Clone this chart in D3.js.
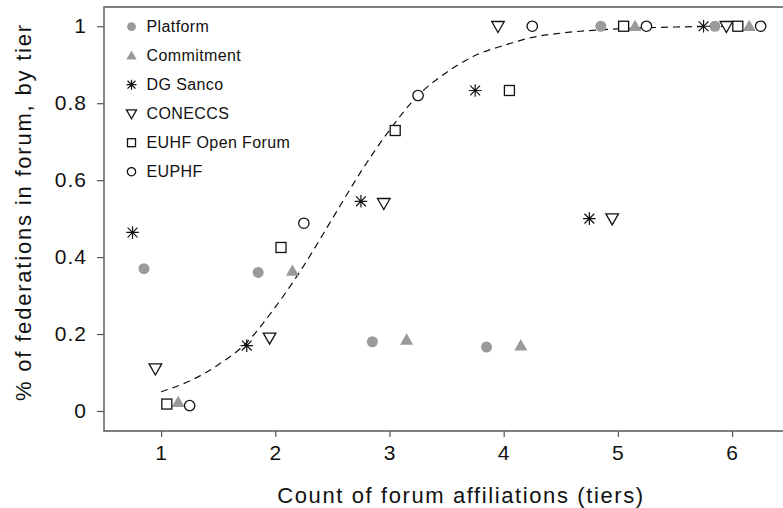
<!DOCTYPE html>
<html>
<head>
<meta charset="utf-8">
<script src="https://cdn.jsdelivr.net/npm/d3@7"></script>
<style>
  body { margin: 0; background: #fff; }
  #chart text { font-family: "Liberation Sans", Arial, sans-serif; fill: #111; }
</style>
</head>
<body>
<div id="chart"></div>
<script>
// tiers (count of forum affiliations)
var tiers = [1, 2, 3, 4, 5, 6];

// share of federations in each forum, by tier
var platform   = [0.37, 0.36, 0.18, 0.166, 1, 1];
var commitment = [0.023, 0.364, 0.185, 0.17, 1, 1];
var dgSanco    = [0.464, 0.17, 0.545, 0.833, 0.5, 1];
var coneccs    = [0.11, 0.19, 0.54, 1, 0.5, 1];
var euhfOpen   = [0.018, 0.425, 0.729, 0.833, 1, 1];
var euphf      = [0.014, 0.488, 0.82, 1, 1, 1];

// dashed fitted curve
var fitX = [1, 1.25, 1.5, 1.75, 2, 2.25, 2.5, 2.75, 3, 3.25, 3.5, 3.75, 4, 4.25, 4.5, 5, 5.5, 6];
var fitY = [0.05, 0.078, 0.12, 0.178, 0.27, 0.378, 0.5, 0.622, 0.73, 0.82, 0.88, 0.924, 0.95, 0.971, 0.982, 0.993, 0.998, 1];

var xTicks = [1, 2, 3, 4, 5, 6];
var yTicks = [0, 0.2, 0.4, 0.6, 0.8, 1];

var W = 783, H = 508;
var grey = "#9a9a9a";

// series: name, values, jitter along x, marker
var series = [
    {name: "Platform", values: platform, dx: -0.15, shape: "dot"},
    {name: "Commitment", values: commitment, dx: 0.15, shape: "tri"},
    {name: "DG Sanco", values: dgSanco, dx: -0.25, shape: "star"},
    {name: "CONECCS", values: coneccs, dx: -0.05, shape: "tridown"},
    {name: "EUHF Open Forum", values: euhfOpen, dx: 0.05, shape: "square"},
    {name: "EUPHF", values: euphf, dx: 0.25, shape: "circle"}
];

var svg = d3.select("#chart")
    .append("svg")
    .attr("width", W)
    .attr("height", H);

var x = d3.scaleLinear().domain([0.5, 6.5]).range([104, 789.2]);
var y = d3.scaleLinear().domain([-0.052, 1.05]).range([431, 7]);

// axes
var gx = svg.append("g")
    .attr("transform", "translate(0,431)")
    .call(d3.axisBottom(x).tickValues(xTicks).tickFormat(d3.format("d"))
        .tickSize(6).tickPadding(8).tickSizeOuter(0));
var gy = svg.append("g")
    .attr("transform", "translate(104,0)")
    .call(d3.axisLeft(y).tickValues(yTicks).tickFormat(function(d) { return d3.format("")(d); })
        .tickSize(7).tickPadding(10).tickSizeOuter(0));

[gx, gy].forEach(function(g) {
    g.select(".domain").remove();
    g.selectAll(".tick line").attr("stroke", "#555").attr("stroke-width", 1.2);
    g.selectAll(".tick text").style("font-size", "21px").style("letter-spacing", "1px");
});

// frame
svg.append("path")
    .attr("d", "M" + W + ",7H104V431H" + W)
    .attr("fill", "none")
    .attr("stroke", "#555")
    .attr("stroke-width", 1.4);

// fitted curve
var line = d3.line()
    .x(function(d, i) { return x(d); })
    .y(function(d, i) { return y(fitY[i]); })
    .curve(d3.curveMonotoneX);
svg.append("path")
    .attr("d", line(fitX))
    .attr("fill", "none")
    .attr("stroke", "#111")
    .attr("stroke-width", 1.2)
    .attr("stroke-dasharray", "7,5");

function drawMarker(g, shape, s) {
    if (shape == "dot") {
        g.append("circle").attr("r", 5.5 * s).attr("fill", grey);
    } else if (shape == "tri") {
        var a = 6.5 * s;
        g.append("path").attr("d", "M0," + (-a) + "L" + (a * 1.0) + "," + (a * 0.75) + "L" + (-a) + "," + (a * 0.75) + "Z")
            .attr("fill", grey);
    } else if (shape == "star") {
        var r = 6.3 * s, q = r * 0.78;
        g.append("path")
            .attr("d", "M0," + (-r) + "V" + r + "M" + (-r) + ",0H" + r +
                "M" + (-q) + "," + (-q) + "L" + q + "," + q + "M" + (-q) + "," + q + "L" + q + "," + (-q))
            .attr("stroke", "#111").attr("stroke-width", 1.2).attr("fill", "none");
    } else if (shape == "tridown") {
        var b = 6.3 * s;
        g.append("path").attr("d", "M" + (-b) + "," + (-b * 0.75) + "L" + b + "," + (-b * 0.75) + "L0," + b + "Z")
            .attr("fill", "#fff").attr("stroke", "#111").attr("stroke-width", 1.3);
    } else if (shape == "square") {
        var h = 5 * s;
        g.append("rect").attr("x", -h).attr("y", -h).attr("width", 2 * h).attr("height", 2 * h)
            .attr("fill", "#fff").attr("stroke", "#111").attr("stroke-width", 1.3);
    } else if (shape == "circle") {
        g.append("circle").attr("r", 5.2 * s)
            .attr("fill", "#fff").attr("stroke", "#111").attr("stroke-width", 1.3);
    }
}

// points
series.forEach(function(sr) {
    svg.selectAll(null)
        .data(sr.values)
        .enter()
        .append("g")
        .attr("transform", function(d, i) { return "translate(" + x(tiers[i] + sr.dx) + "," + y(d) + ")"; })
        .each(function() { drawMarker(d3.select(this), sr.shape, 1); });
});

// legend
var legend = svg.append("g");
series.forEach(function(sr, i) {
    var row = legend.append("g").attr("transform", "translate(131.5," + (26.7 + i * 29) + ")");
    drawMarker(row.append("g"), sr.shape, 0.8);
    row.append("text")
        .attr("x", 15)
        .attr("dy", "0.36em")
        .style("font-size", "16px")
        .style("letter-spacing", "0.4px")
        .text(sr.name);
});

// axis titles
svg.append("text")
    .attr("x", 461)
    .attr("y", 503)
    .attr("text-anchor", "middle")
    .style("font-size", "22px")
    .style("letter-spacing", "1.6px")
    .text("Count of forum affiliations (tiers)");

svg.append("text")
    .attr("transform", "translate(31,212)rotate(-90)")
    .attr("text-anchor", "middle")
    .style("font-size", "22px")
    .style("letter-spacing", "1.8px")
    .text("% of federations in forum, by tier");
</script>
</body>
</html>
